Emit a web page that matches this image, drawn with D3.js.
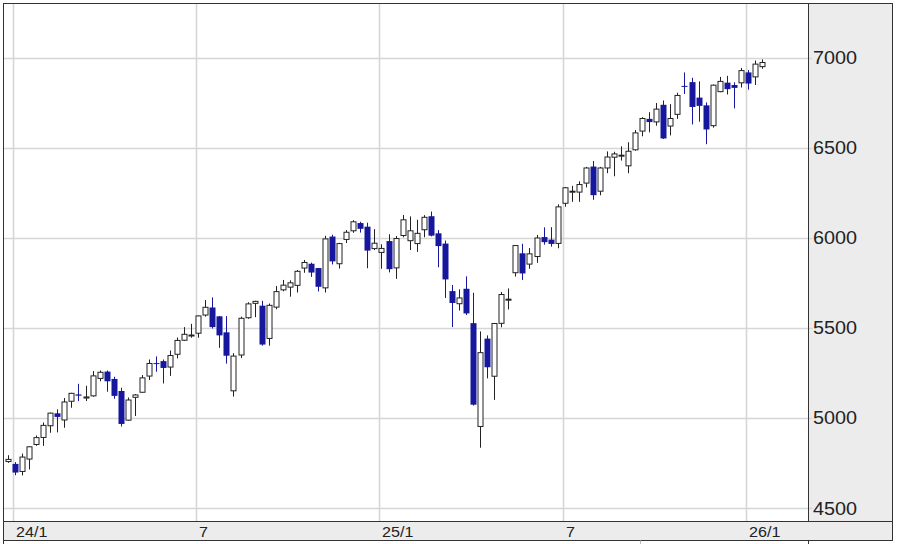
<!DOCTYPE html>
<html>
<head>
<meta charset="utf-8">
<script src="https://cdn.jsdelivr.net/npm/d3@7"></script>
<style>
  html, body { margin: 0; padding: 0; background: #fff; }
  svg { display: block; font-family: "Liberation Sans", Arial, Helvetica, sans-serif; }
</style>
</head>
<body>
<svg id="chart" width="900" height="544"></svg>
<script>
// Weekly candles, week of 2023-12-25 through week of 2026-01-12
const firstWeek = "2023-12-25";
const open  = [4758,4745,4703,4772,4853,4892,4957,5026,4989,5093,5131,5111,5123,5220,5258,5217,5150,4988,5115,5143,
               5233,5305,5316,5283,5354,5432,5460,5471,5572,5614,5565,5476,5151,5350,5557,5637,5624,5442,5616,5712,
               5727,5737,5833,5857,5833,5723,6008,5857,5992,6040,6083,6063,5941,5920,5983,5834,6014,5985,5969,6046,
               6121,6026,5969,5705,5635,5718,5527,4953,5441,5232,5526,5655,5807,5915,5855,5897,6005,5991,5970,6193,
               6259,6255,6305,6397,6260,6389,6449,6457,6401,6490,6594,6662,6645,6740,6622,6687,6845,6866,6780,6737,
               6624,6813,6863,6850,6862,6920,6895,6952];
const high  = [4793,4755,4802,4842,4903,4975,5030,5048,5111,5140,5190,5179,5261,5264,5264,5229,5168,5114,5133,5239,
               5325,5342,5325,5375,5447,5505,5523,5570,5655,5670,5566,5566,5360,5563,5643,5651,5651,5636,5733,5767,
               5765,5822,5878,5863,5834,6012,6018,5973,6044,6099,6090,6085,6049,5965,6021,6011,6128,6120,6101,6127,
               6147,6044,5986,5739,5715,5787,5696,5481,5459,5528,5700,5720,5959,5968,5944,6017,6059,6060,6187,6284,
               6290,6315,6395,6428,6395,6481,6479,6509,6532,6600,6671,6699,6750,6764,6744,6807,6920,6890,6870,6753,
               6853,6895,6901,6865,6945,6933,6986,6992];
const low   = [4751,4682,4681,4714,4845,4845,4918,4920,4946,5057,5094,5094,5118,5204,5146,5107,4953,4985,5011,5142,
               5211,5257,5192,5234,5331,5428,5446,5446,5563,5497,5390,5302,5119,5333,5551,5560,5402,5402,5604,5704,
               5674,5697,5807,5784,5703,5697,5853,5830,5972,6029,6030,5832,5933,5829,5809,5773,6004,5933,5923,6004,
               6009,5837,5667,5505,5597,5572,5069,4835,5220,5101,5504,5603,5786,5767,5829,5862,5963,5952,5943,6174,
               6201,6201,6281,6212,6237,6360,6343,6430,6360,6485,6565,6587,6624,6550,6570,6662,6800,6631,6646,6521,
               6613,6810,6797,6720,6836,6824,6850,6940];
const close = [4770,4697,4783,4840,4891,4959,5027,5006,5089,5137,5124,5117,5234,5254,5204,5123,4967,5100,5128,5223,
               5303,5304,5278,5347,5431,5465,5461,5567,5615,5505,5459,5346,5344,5554,5634,5648,5408,5626,5702,5738,
               5751,5815,5864,5808,5729,5995,5870,5969,6032,6090,6051,5930,5971,5942,5827,5997,6101,6040,6026,6115,
               6013,5955,5770,5639,5667,5581,5074,5363,5282,5525,5686,5660,5958,5803,5912,6000,5977,5967,6173,6279,
               6260,6297,6389,6238,6389,6450,6467,6460,6482,6584,6664,6644,6716,6553,6664,6792,6840,6728,6734,6603,
               6849,6870,6827,6834,6930,6858,6966,6975];

const yTicks = [4500, 5000, 5500, 6000, 6500, 7000];
const xTickMonths = ["2024-01", "2024-07", "2025-01", "2025-07", "2026-01"];
const xTickLabels = ["24/1", "7", "25/1", "7", "26/1"];

// ---------------------------------------------------------------
const N = close.length;
const parse = d3.timeParse("%Y-%m-%d");
const start = parse(firstWeek);
const weeks = d3.timeMonday.range(start, d3.timeDay.offset(d3.timeMonday.offset(start, N - 1), 1));

const svg = d3.select("#chart");
const plot = { left: 3.5, top: 3.5, right: 808.5, bottom: 521.5 };
const panelRight = 892.5, bandBottom = 540.5;

const x = d3.scaleLinear().domain([0, N - 1]).range([8, 762]);
const y = d3.scaleLinear().domain([4500, 7000]).range([508, 58]);

const frame = "#333";
const gridC = "#d6d6d6";
const blue = "#17179d";

// right price panel and bottom date band
svg.append("rect").attr("x", plot.right).attr("y", plot.top)
  .attr("width", panelRight - plot.right).attr("height", plot.bottom - plot.top)
  .attr("fill", "#ececec").attr("stroke", frame).attr("stroke-width", 1);
svg.append("rect").attr("x", plot.left).attr("y", plot.bottom)
  .attr("width", panelRight - plot.left).attr("height", bandBottom - plot.bottom)
  .attr("fill", "#ececec").attr("stroke", frame).attr("stroke-width", 1);
// plot background
svg.append("rect").attr("x", plot.left).attr("y", plot.top)
  .attr("width", plot.right - plot.left).attr("height", plot.bottom - plot.top)
  .attr("fill", "#fff");

// horizontal grid
const gGrid = svg.append("g");
gGrid.selectAll("line.h").data(yTicks).join("line")
  .attr("x1", plot.left).attr("x2", plot.right + 4)
  .attr("y1", d => Math.round(y(d)) + 0.5).attr("y2", d => Math.round(y(d)) + 0.5)
  .attr("stroke", gridC).attr("stroke-width", 1.6);

// vertical grid at week containing first of month
const fmtM = d3.timeFormat("%Y-%m");
const tickIdx = xTickMonths.map(m => {
  const first = d3.timeParse("%Y-%m")(m);
  return weeks.findIndex(w => w <= first && d3.timeDay.offset(w, 7) > first);
});
gGrid.selectAll("line.v").data(tickIdx).join("line")
  .attr("x1", d => Math.round(x(d)) - 1.5).attr("x2", d => Math.round(x(d)) - 1.5)
  .attr("y1", plot.top).attr("y2", plot.bottom)
  .attr("stroke", gridC).attr("stroke-width", 1.6);

// plot frame
svg.append("rect").attr("x", plot.left).attr("y", plot.top)
  .attr("width", plot.right - plot.left).attr("height", plot.bottom - plot.top)
  .attr("fill", "none").attr("stroke", frame).attr("stroke-width", 1);

// small stubs below the date band
[plot.left, 640.5, plot.right].forEach((sx, k) => {
  svg.append("line").attr("x1", sx).attr("x2", sx).attr("y1", bandBottom).attr("y2", 544)
    .attr("stroke", k === 1 ? "#bbb" : frame).attr("stroke-width", 1);
});

// candles
const data = d3.range(N).map(i => ({ i, o: open[i], h: high[i], l: low[i], c: close[i] }));
const bw = 5;
const gC = svg.append("g");
const cg = gC.selectAll("g").data(data).join("g");
cg.append("line")
  .attr("x1", d => Math.round(x(d.i)) + 0.5).attr("x2", d => Math.round(x(d.i)) + 0.5)
  .attr("y1", d => y(d.h)).attr("y2", d => y(d.l))
  .attr("stroke", d => d.c >= d.o ? "#222" : blue).attr("stroke-width", 1);
cg.append("rect")
  .attr("x", d => Math.round(x(d.i)) + 0.5 - bw / 2 - (d.c >= d.o ? 0 : 0.5))
  .attr("y", d => Math.min(y(d.o), y(d.c)))
  .attr("width", d => d.c >= d.o ? bw : bw + 1)
  .attr("height", d => Math.max(1, Math.abs(y(d.o) - y(d.c))))
  .attr("fill", d => d.c >= d.o ? "#fff" : blue)
  .attr("stroke", d => d.c >= d.o ? "#222" : "none")
  .attr("stroke-width", 1);

// y labels
const yl = svg.append("g").selectAll("text").data(yTicks).join("text")
  .attr("x", 813).attr("y", d => y(d) + (d === 4500 ? 1 : 0))
  .attr("dominant-baseline", "central")
  .attr("font-size", 18).attr("fill", "#222")
  .text(d => d);
yl.each(function () { const w = this.getComputedTextLength(); d3.select(this).attr("textLength", w * 1.1).attr("lengthAdjust", "spacingAndGlyphs"); });

// x labels
const xl = svg.append("g").selectAll("text").data(tickIdx).join("text")
  .attr("x", d => Math.round(x(d)) + 1).attr("y", 531.5)
  .attr("dominant-baseline", "central")
  .attr("font-size", 14).attr("fill", "#222")
  .text((d, k) => xTickLabels[k]);
xl.each(function () { const w = this.getComputedTextLength(); d3.select(this).attr("textLength", w * 1.15).attr("lengthAdjust", "spacingAndGlyphs"); });
</script>
</body>
</html>
